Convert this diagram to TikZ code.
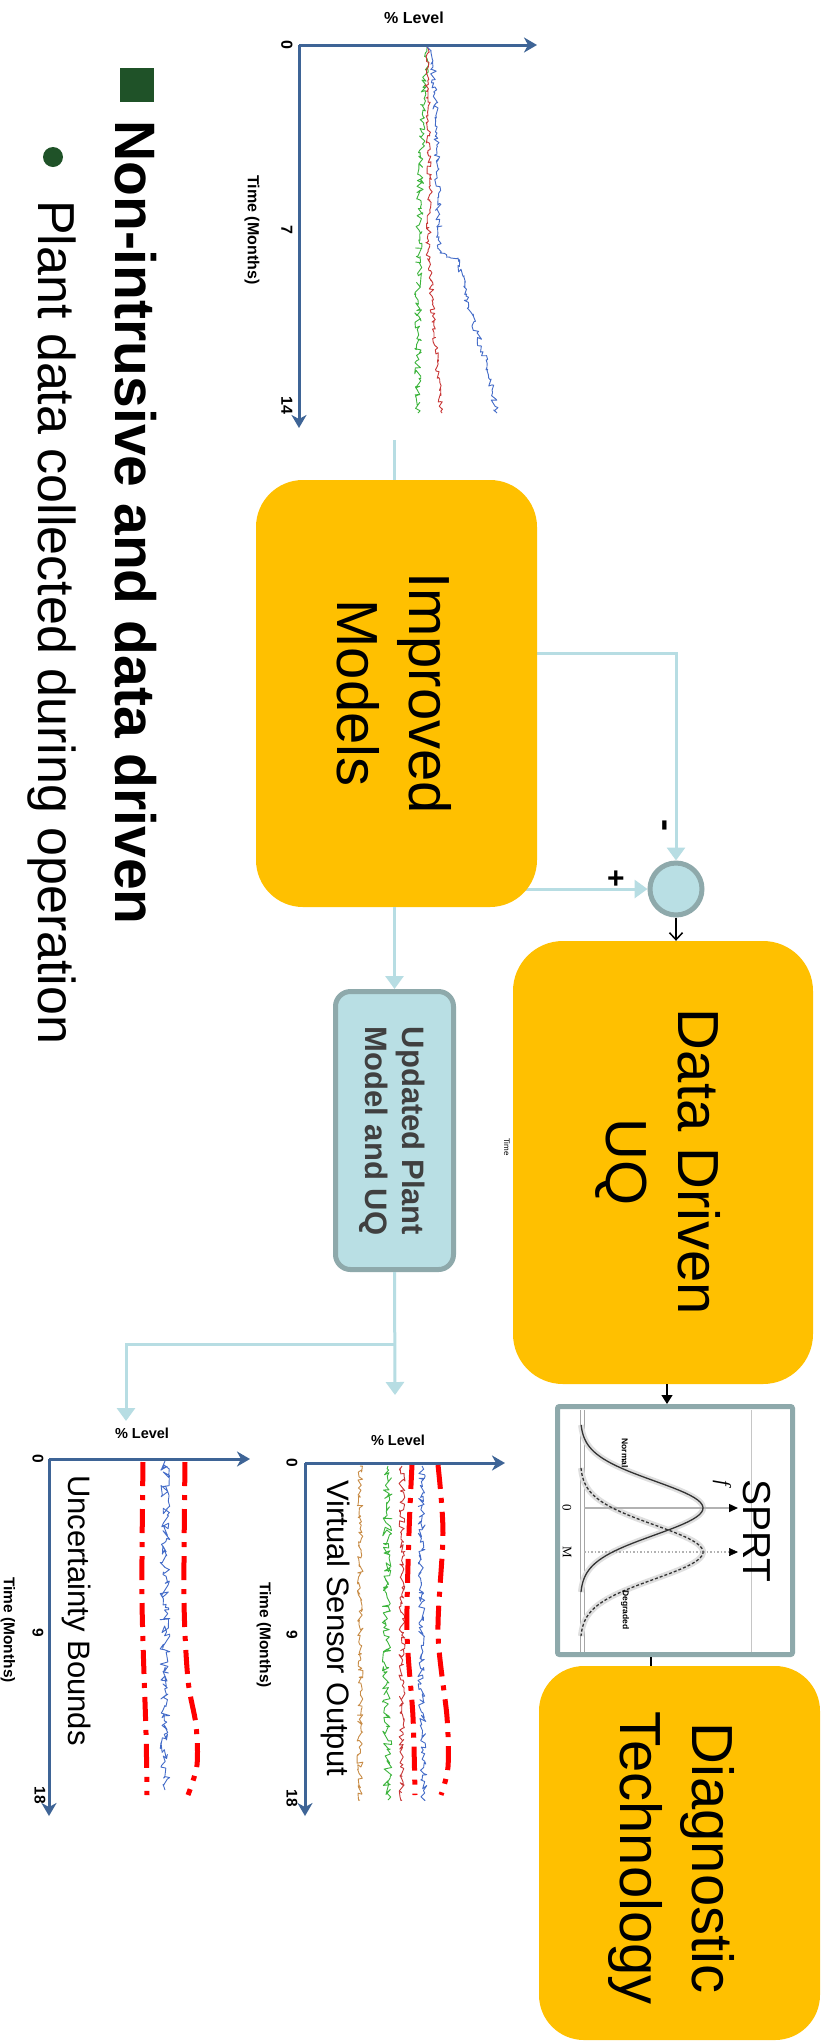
\documentclass[tikz,border=0pt]{standalone}
\usepackage{fontspec}
\setmainfont{Liberation Sans}
\newfontfamily\seriffont{Liberation Serif}
\usetikzlibrary{arrows.meta, decorations.pathmorphing, calc}
\pgfdeclarelayer{bg}
\pgfsetlayers{bg,main}
\definecolor{boxorange}{RGB}{255,192,0}
\definecolor{lblue}{RGB}{185,223,228}
\definecolor{connc}{RGB}{183,221,227}
\definecolor{bordergray}{RGB}{142,169,171}
\definecolor{axisblue}{RGB}{62,100,150}
\definecolor{bulletgreen}{RGB}{31,82,40}
\definecolor{tblue}{RGB}{68,108,200}
\definecolor{tred}{RGB}{200,55,55}
\definecolor{tgreen}{RGB}{60,180,60}
\definecolor{torange}{RGB}{200,140,70}
\definecolor{darktext}{RGB}{64,64,64}
\tikzset{
  obox/.style={fill=boxorange, draw=none, inner sep=0pt},
  bigtxt/.style={rotate=-90, align=center, inner sep=0pt, font=\fontsize{58}{72}\selectfont},
  conn/.style={draw=connc, line width=3pt},
  carrow/.style={-{Triangle[length=13pt,width=18pt]}},
  axisline/.style={draw=axisblue, line width=3pt, -{Stealth[length=13pt,width=15pt,inset=4pt]}},
  lbl/.style={inner sep=0pt, font=\bfseries\fontsize{16}{19}\selectfont},
  rlbl/.style={lbl, rotate=-90},
  slbl/.style={inner sep=0pt, font=\bfseries\fontsize{14.5}{17}\selectfont},
  srlbl/.style={inner sep=0pt, rotate=-90, font=\bfseries\fontsize{15.5}{18}\selectfont},
  noisy/.style={line width=0.9pt, line join=round, decorate, decoration={random steps, segment length=2.2pt, amplitude=#1}},
  noisy/.default=3pt,
  bound/.style={draw=red, line width=5pt, dash pattern=on 24pt off 9pt on 5pt off 9pt},
  captxt/.style={rotate=-90, anchor=base west, inner sep=0pt, font=\fontsize{31}{37}\selectfont}
}
\begin{document}
\begin{tikzpicture}[x=1pt, y=-1pt]
\useasboundingbox (0,0) rectangle (825,2043);
\begin{pgfonlayer}{bg}
\fill[white] (0,0) rectangle (825,2043);
\end{pgfonlayer}

% ---------- left text ----------
\node[fill=bulletgreen, minimum size=34pt, inner sep=0pt] (sq) at (137,85) {};
\node[circle, fill=bulletgreen, minimum size=20pt, inner sep=0pt] (dot) at (53,157) {};
\node[rotate=-90, anchor=base west, inner sep=0pt, font=\bfseries\fontsize{57}{68}\selectfont] (h1) at (115,120) {Non-intrusive and data driven};
\node[rotate=-90, anchor=base west, inner sep=0pt, font=\fontsize{52}{62}\selectfont] (h2) at (38,200) {Plant data collected during operation};

% ---------- top chart ----------
\coordinate (o1) at (299,45);
\draw[axisline] (o1) -- (537,45);
\draw[axisline] (o1) -- (299,428);
\node[lbl] (t1lev) at (414,18) {\% Level};
\node[rlbl] (t1z) at (287,45) {0};
\node[rlbl] (t1s) at (287,230) {7};
\node[rlbl] (t1f) at (287,405) {14};
\node[rlbl] (t1t) at (252,230) {Time (Months)};
\pgfmathsetseed{11}
\draw[tgreen, noisy=3.5pt] (427,47) -- (423,110) -- (420,200) -- (418,300) -- (418,413);
\draw[tred, noisy=2.5pt] (427,47) -- (428,110) -- (430,200) -- (428,250) -- (432,300) -- (437,367) -- (442,413);
\draw[tblue, noisy=3pt] (427,47) -- (433,67) -- (437,133) -- (438,200) -- (440,253) -- (458,258) -- (467,300) -- (477,333) -- (487,367) -- (497,413);

% ---------- boxes ----------
\node[obox, rounded corners=47pt, minimum width=281pt, minimum height=427pt] (im) at (396.5,693.5) {};
\node[bigtxt] (imt) at (394,693) {Improved\\Models};

\node[circle, fill=lblue, draw=bordergray, line width=5pt, minimum size=52pt, inner sep=0pt] (sum) at (676,889) {};
\node[inner sep=0pt, rotate=-90, font=\bfseries\fontsize{36}{40}\selectfont] (minus) at (661,825) {-};
\node[inner sep=0pt, font=\bfseries\fontsize{30}{34}\selectfont] (plus) at (616,880) {+};

\node[obox, rounded corners=50pt, minimum width=300pt, minimum height=443pt] (dd) at (663,1162.5) {};
\node[bigtxt] (ddt) at (658,1162) {Data Driven\\UQ};
\node[rotate=-90, inner sep=0pt, font=\fontsize{8}{9}\selectfont] (tm) at (507,1147) {Time};

\node[fill=lblue, draw=bordergray, line width=5pt, rounded corners=15pt, minimum width=118pt, minimum height=278pt, inner sep=0pt] (upd) at (394.5,1130.5) {};
\node[rotate=-90, align=center, inner sep=0pt, text=darktext, font=\bfseries\fontsize{31}{37}\selectfont] (updt) at (392,1131) {Updated Plant\\Model and UQ};

\node[fill=white, draw=bordergray, line width=5pt, rounded corners=2pt, minimum width=235pt, minimum height=248pt, inner sep=0pt] (sprt) at (675,1530.5) {};
\node[obox, rounded corners=45pt, minimum width=281pt, minimum height=374pt] (dg) at (679.5,1853) {};
\node[bigtxt] (dgt) at (671,1858) {Diagnostic\\Technology};

% ---------- SPRT inner figure ----------
\draw[gray!70, line width=1pt] (580,1410) -- (580,1652);
\draw[gray!70, line width=1pt] (584,1410) -- (584,1652);
\draw[gray!45, line width=0.6pt] (751,1410) -- (751,1652);
\draw[gray!25, line width=6pt] plot[domain=1425:1592, samples=70] ({580+123*exp(-0.5*((\x-1508)/27)^2)}, \x);
\draw[gray!25, line width=6pt] plot[domain=1468:1636, samples=70] ({580+123*exp(-0.5*((\x-1552)/27)^2)}, \x);
\draw[gray!60, line width=1.5pt, -{Triangle[length=9pt,width=8pt,color=black]}] (584,1508) -- (738,1508);
\draw[gray!60, line width=1.5pt, dotted] (584,1552) -- (729,1552);
\draw[-{Triangle[length=9pt,width=8pt]}, black, line width=0.5pt] (729,1552) -- (738,1552);
\draw[black!80, line width=1.3pt] plot[domain=1425:1592, samples=70] ({580+123*exp(-0.5*((\x-1508)/27)^2)}, \x);
\draw[black!80, line width=1.3pt, dash pattern=on 3pt off 2pt] plot[domain=1468:1636, samples=70] ({580+123*exp(-0.5*((\x-1552)/27)^2)}, \x);
\node[rotate=-90, inner sep=0pt, font=\seriffont\fontsize{13}{15}\selectfont] (sz) at (567,1508) {0};
\node[rotate=-90, inner sep=0pt, font=\seriffont\fontsize{13}{15}\selectfont] (sm) at (567,1552) {M};
\node[rotate=-90, inner sep=0pt, font=\seriffont\itshape\fontsize{20}{22}\selectfont] (sf) at (722,1483) {f};
\node[rotate=-90, inner sep=0pt, font=\bfseries\fontsize{8.5}{10}\selectfont] (sn) at (625,1453) {Normal};
\node[rotate=-90, inner sep=0pt, font=\bfseries\fontsize{8.5}{10}\selectfont] (sd) at (625,1610) {Degraded};
\node[rotate=-90, inner sep=0pt, font=\fontsize{39}{44}\selectfont] (sprtt) at (757,1531) {SPRT};

% ---------- virtual sensor chart ----------
\draw[axisline] (305,1463) -- (505,1463);
\draw[axisline] (305,1463) -- (305,1816);
\node[slbl] (vlev) at (398,1440) {\% Level};
\node[srlbl] (vz) at (292,1463) {0};
\node[srlbl] (vn) at (292,1635) {9};
\node[srlbl] (ve) at (292,1798) {18};
\node[srlbl] (vt) at (264,1635) {Time (Months)};
\draw[torange, noisy=3pt] (360,1466) -- (360,1800);
\draw[tgreen, noisy=4.5pt] (388,1466) -- (386,1640) -- (388,1800);
\draw[tred, noisy=3pt] (402,1466) -- (402,1800);
\draw[tblue, noisy=3.5pt] (422,1466) -- (421,1660) -- (424,1800);
\draw[bound] plot[smooth] coordinates {(412,1465) (409,1533) (407,1633) (413,1717) (415,1795)};
\draw[bound] plot[smooth] coordinates {(438,1465) (443,1533) (438,1633) (447,1717) (448,1767) (441,1795)};
\node[captxt] (vso) at (327,1480) {Virtual Sensor Output};

% ---------- uncertainty chart ----------
\draw[axisline] (49,1459) -- (250,1459);
\draw[axisline] (49,1459) -- (49,1816);
\node[slbl] (ulev) at (142,1433) {\% Level};
\node[srlbl] (uz) at (38,1459) {0};
\node[srlbl] (un) at (38,1633) {9};
\node[srlbl] (ue) at (40,1795) {18};
\node[srlbl] (ut) at (8,1630) {Time (Months)};
\draw[tblue, noisy=5pt] (165,1461) -- (165,1790);
\draw[bound] plot[smooth] coordinates {(143,1462) (142,1600) (146,1733) (147,1795)};
\draw[bound] plot[smooth] coordinates {(185,1462) (184,1600) (188,1680) (196,1725) (197,1765) (188,1795)};
\node[captxt] (ubt) at (68,1475) {Uncertainty Bounds};

% ---------- connectors ----------
\coordinate (c1) at (394,440);
\coordinate (m1) at (537,653);
\coordinate (vtop) at (395,1395);
\coordinate (utop) at (126,1421);
\coordinate (br) at (395,1344);
\coordinate (ddx) at (667,1384);
\coordinate (sx) at (651,1657);
\begin{pgfonlayer}{bg}
\draw[conn] (c1) -- (c1 |- im.north);
\draw[conn, carrow] (im.center |- m1) -| (sum.north);
\draw[conn, carrow] (im.center |- sum.west) -- (sum.west);
\end{pgfonlayer}
\draw[conn, carrow] (upd.north |- im.south) -- (upd.north);
\draw[conn, carrow] (upd.south) -- (vtop);
\draw[conn, carrow] (br) -| (utop);
\draw[black, line width=1.5pt, -{Straight Barb[length=7pt,width=13pt]}] (sum.south) -- (sum.south |- dd.north);
\draw[black, line width=1.2pt, -{Triangle[length=9pt,width=11pt]}] (ddx) -- (ddx |- sprt.north);
\draw[black, line width=2pt] (sx |- sprt.south) -- (sx |- dg.north);
\end{tikzpicture}
\end{document}
